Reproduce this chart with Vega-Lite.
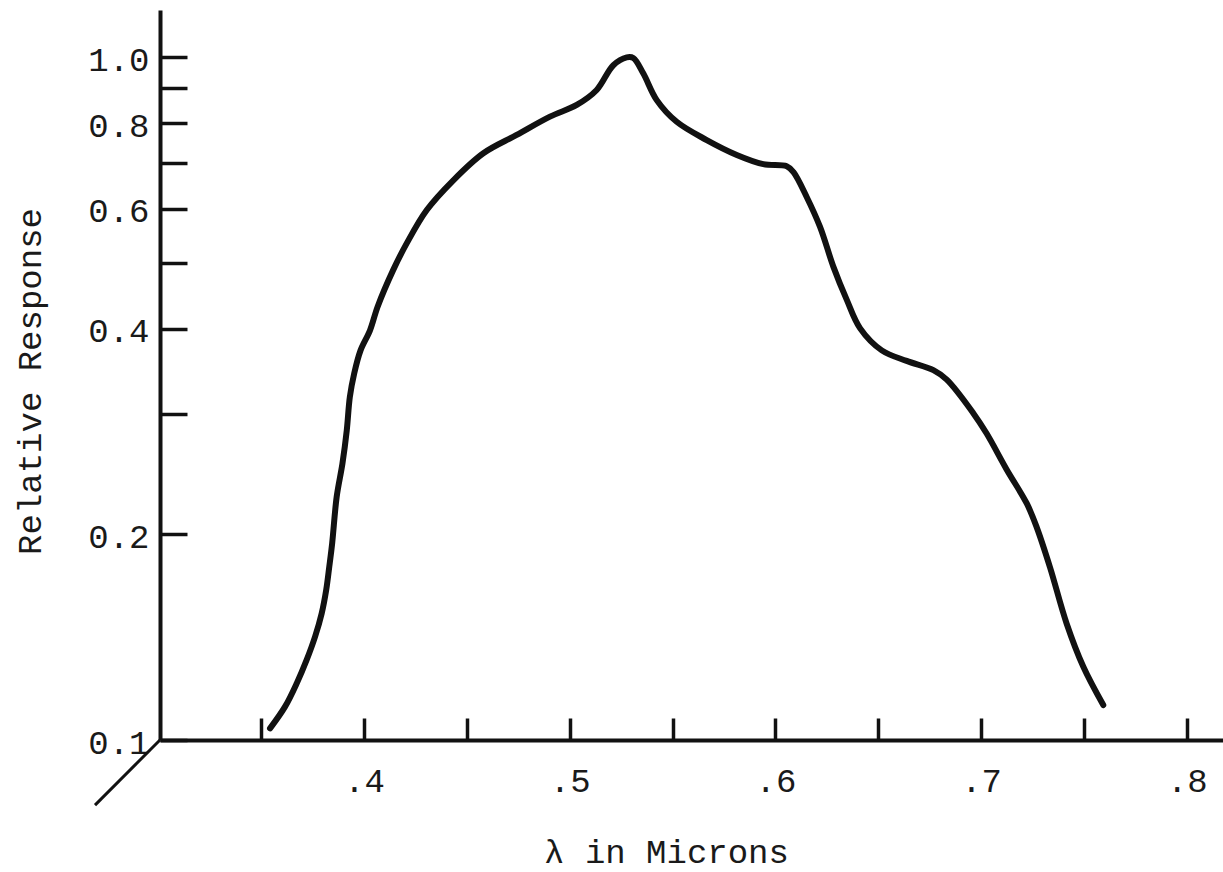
{
  "$schema": "https://vega.github.io/schema/vega-lite/v6.json",
  "width": 1063,
  "height": 730,
  "autosize": {"type": "none"},
  "padding": {"left": 160, "top": 10, "right": 0, "bottom": 132},
  "background": "white",
  "config": {
    "view": {"stroke": null},
    "font": "Liberation Mono",
    "axis": {
      "grid": false,
      "domainColor": "#111111",
      "domainWidth": 4,
      "tickColor": "#111111",
      "tickWidth": 3.5,
      "labelFont": "Liberation Mono",
      "labelFontSize": 34,
      "labelColor": "#1a1a1a",
      "labelFontWeight": "normal",
      "labelOverlap": false,
      "labelFlush": false,
      "labelBound": false,
      "titleFont": "Liberation Mono",
      "titleFontSize": 34,
      "titleFontWeight": "normal",
      "titleColor": "#1a1a1a"
    }
  },
  "datasets": {
    "response": [
      {"wavelength": 0.3543, "response": 0.104},
      {"wavelength": 0.3616, "response": 0.1119},
      {"wavelength": 0.3673, "response": 0.1211},
      {"wavelength": 0.3721, "response": 0.131},
      {"wavelength": 0.3762, "response": 0.1417},
      {"wavelength": 0.3794, "response": 0.1532},
      {"wavelength": 0.3816, "response": 0.1658},
      {"wavelength": 0.3831, "response": 0.1794},
      {"wavelength": 0.3845, "response": 0.1941},
      {"wavelength": 0.3867, "response": 0.2271},
      {"wavelength": 0.3895, "response": 0.254},
      {"wavelength": 0.3916, "response": 0.284},
      {"wavelength": 0.3931, "response": 0.318},
      {"wavelength": 0.3952, "response": 0.344},
      {"wavelength": 0.3983, "response": 0.372},
      {"wavelength": 0.4029, "response": 0.398},
      {"wavelength": 0.4066, "response": 0.431},
      {"wavelength": 0.4142, "response": 0.488},
      {"wavelength": 0.4208, "response": 0.534},
      {"wavelength": 0.4305, "response": 0.597},
      {"wavelength": 0.4434, "response": 0.66},
      {"wavelength": 0.458, "response": 0.723},
      {"wavelength": 0.4742, "response": 0.769},
      {"wavelength": 0.4904, "response": 0.818},
      {"wavelength": 0.5034, "response": 0.851},
      {"wavelength": 0.5131, "response": 0.895},
      {"wavelength": 0.5212, "response": 0.973},
      {"wavelength": 0.5277, "response": 0.999},
      {"wavelength": 0.5309, "response": 0.997},
      {"wavelength": 0.5358, "response": 0.946},
      {"wavelength": 0.5423, "response": 0.865},
      {"wavelength": 0.552, "response": 0.804},
      {"wavelength": 0.5666, "response": 0.756},
      {"wavelength": 0.5812, "response": 0.719},
      {"wavelength": 0.5941, "response": 0.697},
      {"wavelength": 0.6055, "response": 0.692},
      {"wavelength": 0.6087, "response": 0.679},
      {"wavelength": 0.6152, "response": 0.624},
      {"wavelength": 0.6217, "response": 0.564},
      {"wavelength": 0.6282, "response": 0.493},
      {"wavelength": 0.6347, "response": 0.441},
      {"wavelength": 0.6411, "response": 0.401},
      {"wavelength": 0.6517, "response": 0.372},
      {"wavelength": 0.6638, "response": 0.359},
      {"wavelength": 0.6768, "response": 0.348},
      {"wavelength": 0.6833, "response": 0.337},
      {"wavelength": 0.6962, "response": 0.301},
      {"wavelength": 0.7027, "response": 0.281},
      {"wavelength": 0.7124, "response": 0.249},
      {"wavelength": 0.7222, "response": 0.222},
      {"wavelength": 0.727, "response": 0.205},
      {"wavelength": 0.7335, "response": 0.179},
      {"wavelength": 0.7416, "response": 0.148},
      {"wavelength": 0.7497, "response": 0.128},
      {"wavelength": 0.7594, "response": 0.1125}
    ],
    "depthAxis": [
      {"wavelength": 0.3008, "response": 0.1},
      {"wavelength": 0.2692, "response": 0.0803}
    ]
  },
  "encoding": {
    "x": {
      "field": "wavelength",
      "type": "quantitative",
      "scale": {"domain": [0.3008, 0.8176], "nice": false, "zero": false},
      "axis": {
        "title": "λ in Microns",
        "values": [0.35, 0.4, 0.45, 0.5, 0.55, 0.6, 0.65, 0.7, 0.75, 0.8],
        "labelExpr": "round(datum.value * 100) % 10 == 0 ? replace(format(datum.value, '.1f'), '0.', '.') : ''",
        "tickSize": -22,
        "labelPadding": 46,
        "titleX": 506,
        "titleY": 122,
        "titleAnchor": null,
        "titleAlign": "center",
        "titleBaseline": "alphabetic"
      }
    },
    "y": {
      "field": "response",
      "type": "quantitative",
      "scale": {"type": "log", "domain": [0.1, 1.172], "nice": false, "zero": false},
      "axis": {
        "title": "Relative Response",
        "values": [0.1, 0.2, 0.3, 0.4, 0.5, 0.6, 0.7, 0.8, 0.9, 1.0],
        "labelExpr": "(datum.value == 0.3 || datum.value == 0.5 || datum.value == 0.7 || datum.value == 0.9) ? '' : format(datum.value, '.1f')",
        "tickSize": -27,
        "labelPadding": 38,
        "labelOffset": 3,
        "titleAngle": -90,
        "titleX": -130,
        "titleY": 371,
        "titleAlign": "center",
        "titleBaseline": "middle"
      }
    }
  },
  "layer": [
    {
      "data": {"name": "depthAxis"},
      "mark": {"type": "line", "color": "#111111", "strokeWidth": 3, "clip": false}
    },
    {
      "data": {"name": "response"},
      "mark": {
        "type": "line",
        "color": "#111111",
        "strokeWidth": 6,
        "interpolate": "catmull-rom",
        "strokeCap": "round",
        "strokeJoin": "round"
      }
    }
  ]
}
